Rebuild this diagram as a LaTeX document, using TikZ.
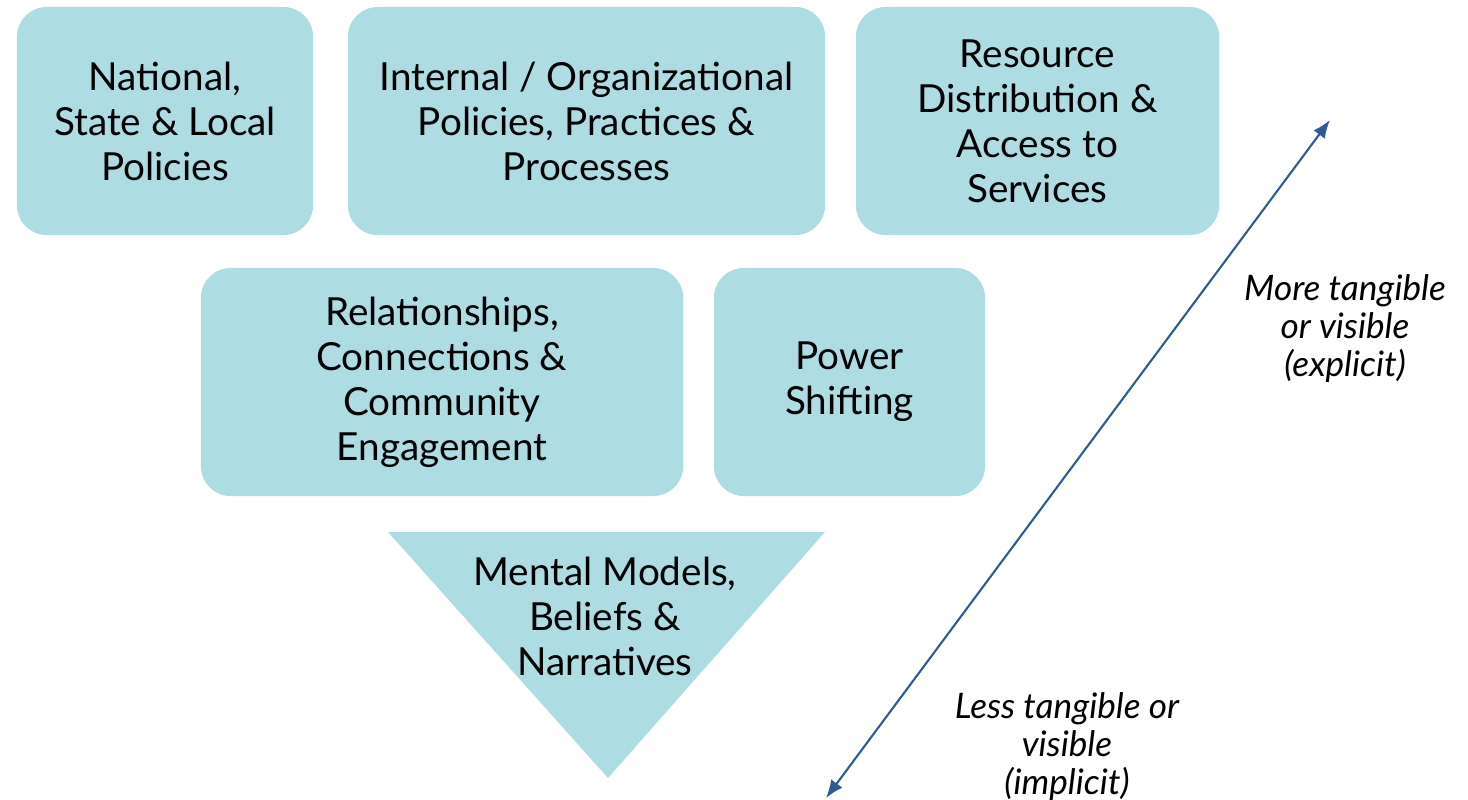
\documentclass[tikz,border=0pt]{standalone}
\usepackage{fontspec}
\setmainfont{Lato}
\usetikzlibrary{arrows.meta}
\definecolor{boxblue}{HTML}{ADDCE3}
\definecolor{arrowblue}{HTML}{2E5C94}
\tikzset{
  level/.style={fill=boxblue, rounded corners=0.3cm, align=center, inner sep=0pt,
    minimum height=2.28cm, font=\fontsize{11}{12.8}\selectfont},
  note/.style={align=center, font=\itshape\fontsize{10}{10.8}\selectfont}
}
\begin{document}
\begin{tikzpicture}[x=0.01cm, y=-0.01cm]
      \useasboundingbox (0,0) rectangle (1468,800);
      \node[level, minimum width=2.96cm] (1) at (165,121) {National,\\State \& Local\\Policies};
      \node[level, minimum width=4.77cm] (2) at (586.5,121) {Internal / Organizational\\Policies, Practices \&\\Processes};
      \node[level, minimum width=3.63cm] (3) at (1037.5,121) {Resource\\Distribution \&\\Access to\\Services};
      \node[level, minimum width=4.82cm] (4) at (442,382) {Relationships,\\Connections \&\\Community\\Engagement};
      \node[level, minimum width=2.71cm] (5) at (849.5,382) {Power\\Shifting};
      \fill[boxblue] (388,532) -- (825,532) -- (608,778) -- cycle;
      \node[align=center, font=\fontsize{11}{12.8}\selectfont] (6) at (605,616) {Mental Models,\\Beliefs \&\\Narratives};
      \coordinate (7) at (826,798);
      \coordinate (8) at (1330,120);
      \draw[arrowblue, line width=0.6pt, {Latex[length=0.18cm,width=0.14cm]}-{Latex[length=0.18cm,width=0.14cm]}] (7) -- (8);
      \node[note] (9) at (1345,329) {More tangible\\or visible\\(explicit)};
      \node[note] (10) at (1067,747) {Less tangible or\\visible\\(implicit)};
    \end{tikzpicture}
\end{document}
